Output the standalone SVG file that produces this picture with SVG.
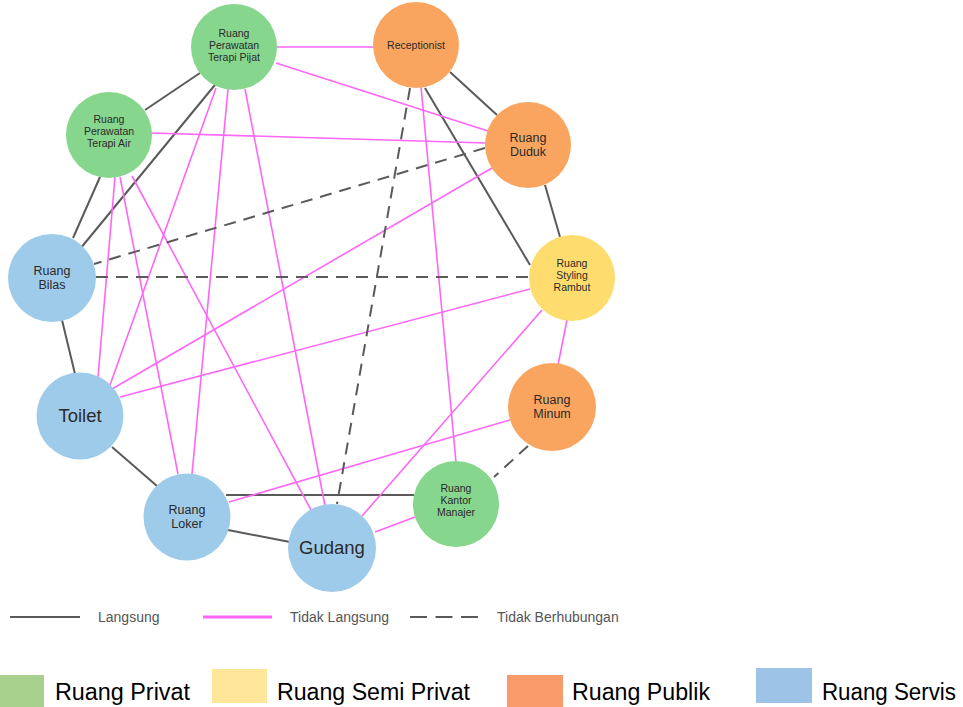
<svg xmlns="http://www.w3.org/2000/svg" width="963" height="707" viewBox="0 0 963 707">
  <style>
    .direct { stroke: #5a5a5a; stroke-width: 2; fill: none; }
    .indirect { stroke: #ff66f7; stroke-width: 1.6; fill: none; }
    .none { stroke: #5a5a5a; stroke-width: 2; fill: none; stroke-dasharray: 12 8; }
    .privat { fill: #87d68e; }
    .semi { fill: #fedd6e; }
    .publik { fill: #f9a560; }
    .servis { fill: #9fcbea; }
    .node text { font-family: "Liberation Sans", Arial, sans-serif; fill: #2a2a2a; text-anchor: middle; }
    .s { font-size: 10.5px; }
    .m { font-size: 12.5px; }
    .l { font-size: 18.5px; }
    .key { font-family: "Liberation Sans", Arial, sans-serif; font-size: 14px; fill: #555; }
    .cat { font-family: "Liberation Sans", Arial, sans-serif; font-size: 23px; fill: #000; }
  </style>

  <rect width="963" height="707" fill="#ffffff"/>

  <!-- connectors -->
  <g id="connectors">
    <!-- Langsung -->
    <line class="direct" x1="200" y1="73" x2="145" y2="110"/>
    <line class="direct" x1="219" y1="80" x2="80" y2="249"/>
    <line class="direct" x1="100" y1="177" x2="73" y2="238"/>
    <line class="direct" x1="450" y1="72" x2="497" y2="115"/>
    <line class="direct" x1="425" y1="88" x2="530" y2="265"/>
    <line class="direct" x1="545" y1="185" x2="560" y2="237"/>
    <line class="direct" x1="62" y1="320" x2="75" y2="374"/>
    <line class="direct" x1="112" y1="447" x2="157" y2="486"/>
    <line class="direct" x1="228" y1="530" x2="290" y2="542"/>
    <line class="direct" x1="226" y1="495" x2="414" y2="495"/>

    <!-- Tidak Langsung -->
    <line class="indirect" x1="276" y1="47" x2="374" y2="47"/>
    <line class="indirect" x1="276" y1="63" x2="488" y2="131"/>
    <line class="indirect" x1="151" y1="133" x2="486" y2="143"/>
    <line class="indirect" x1="115" y1="177" x2="98" y2="377"/>
    <line class="indirect" x1="120" y1="177" x2="178" y2="474"/>
    <line class="indirect" x1="132" y1="176" x2="311" y2="510"/>
    <line class="indirect" x1="216" y1="88" x2="110" y2="385"/>
    <line class="indirect" x1="228" y1="89" x2="192" y2="474"/>
    <line class="indirect" x1="245" y1="89" x2="325" y2="506"/>
    <line class="indirect" x1="421" y1="87" x2="456" y2="462"/>
    <line class="indirect" x1="492" y1="168" x2="112" y2="389"/>
    <line class="indirect" x1="530" y1="289" x2="120" y2="397"/>
    <line class="indirect" x1="567" y1="320" x2="558" y2="365"/>
    <line class="indirect" x1="542" y1="310" x2="362" y2="516"/>
    <line class="indirect" x1="510" y1="420" x2="229" y2="502"/>
    <line class="indirect" x1="415" y1="517" x2="375" y2="532"/>

    <!-- Tidak Berhubungan -->
    <line class="none" x1="485" y1="148" x2="94" y2="264"/>
    <line class="none" x1="96" y1="277" x2="529" y2="277"/>
    <line class="none" x1="410" y1="88" x2="337" y2="504"/>
    <line class="none" x1="528" y1="446" x2="494" y2="477"/>
  </g>

  <!-- rooms -->
  <g id="terapi-pijat" class="node">
    <circle class="privat" cx="234" cy="47" r="43"/>
    <text class="s" x="234" y="37">Ruang</text>
    <text class="s" x="234" y="49">Perawatan</text>
    <text class="s" x="234" y="61">Terapi Pijat</text>
  </g>
  <g id="receptionist" class="node">
    <circle class="publik" cx="416" cy="45" r="43"/>
    <text class="s" x="416" y="49">Receptionist</text>
  </g>
  <g id="terapi-air" class="node">
    <circle class="privat" cx="109" cy="135" r="43"/>
    <text class="s" x="109" y="123">Ruang</text>
    <text class="s" x="109" y="135">Perawatan</text>
    <text class="s" x="109" y="147">Terapi Air</text>
  </g>
  <g id="duduk" class="node">
    <circle class="publik" cx="528" cy="145" r="43"/>
    <text class="m" x="528" y="142">Ruang</text>
    <text class="m" x="528" y="156">Duduk</text>
  </g>
  <g id="styling" class="node">
    <circle class="semi" cx="572" cy="278" r="43"/>
    <text class="s" x="572" y="267">Ruang</text>
    <text class="s" x="572" y="279">Styling</text>
    <text class="s" x="572" y="291">Rambut</text>
  </g>
  <g id="bilas" class="node">
    <circle class="servis" cx="52" cy="278" r="44"/>
    <text class="m" x="52" y="275">Ruang</text>
    <text class="m" x="52" y="289">Bilas</text>
  </g>
  <g id="toilet" class="node">
    <circle class="servis" cx="80" cy="416" r="43.5"/>
    <text class="l" x="80" y="422">Toilet</text>
  </g>
  <g id="minum" class="node">
    <circle class="publik" cx="552" cy="407" r="44"/>
    <text class="m" x="552" y="404">Ruang</text>
    <text class="m" x="552" y="418">Minum</text>
  </g>
  <g id="kantor" class="node">
    <circle class="privat" cx="456" cy="504" r="43"/>
    <text class="s" x="456" y="492">Ruang</text>
    <text class="s" x="456" y="504">Kantor</text>
    <text class="s" x="456" y="516">Manajer</text>
  </g>
  <g id="loker" class="node">
    <circle class="servis" cx="187" cy="517" r="43.5"/>
    <text class="m" x="187" y="514">Ruang</text>
    <text class="m" x="187" y="528">Loker</text>
  </g>
  <g id="gudang" class="node">
    <circle class="servis" cx="332" cy="548" r="44"/>
    <text class="l" x="332" y="554">Gudang</text>
  </g>

  <!-- connector key -->
  <g id="line-key">
    <line x1="10" y1="617" x2="80" y2="617" stroke="#5a5a5a" stroke-width="2"/>
    <text class="key" x="98" y="622">Langsung</text>
    <line x1="203" y1="617" x2="272" y2="617" stroke="#ff66f7" stroke-width="3"/>
    <text class="key" x="290" y="622">Tidak Langsung</text>
    <line x1="410" y1="617" x2="478" y2="617" stroke="#5a5a5a" stroke-width="2" stroke-dasharray="17 8.5"/>
    <text class="key" x="497" y="622">Tidak Berhubungan</text>
  </g>

  <!-- room category key -->
  <g id="category-key">
    <rect x="0" y="675" width="44" height="32" fill="#a9d18e"/>
    <text class="cat" x="55" y="700" textLength="135" lengthAdjust="spacingAndGlyphs">Ruang Privat</text>
    <rect x="212" y="669" width="55" height="34" fill="#ffe699"/>
    <text class="cat" x="277" y="700" textLength="193" lengthAdjust="spacingAndGlyphs">Ruang Semi Privat</text>
    <rect x="507" y="675" width="56" height="32" fill="#f99a6a"/>
    <text class="cat" x="572" y="700" textLength="138" lengthAdjust="spacingAndGlyphs">Ruang Publik</text>
    <rect x="756" y="668" width="56" height="35" fill="#9dc3e6"/>
    <text class="cat" x="822" y="700" textLength="134" lengthAdjust="spacingAndGlyphs">Ruang Servis</text>
  </g>
</svg>
